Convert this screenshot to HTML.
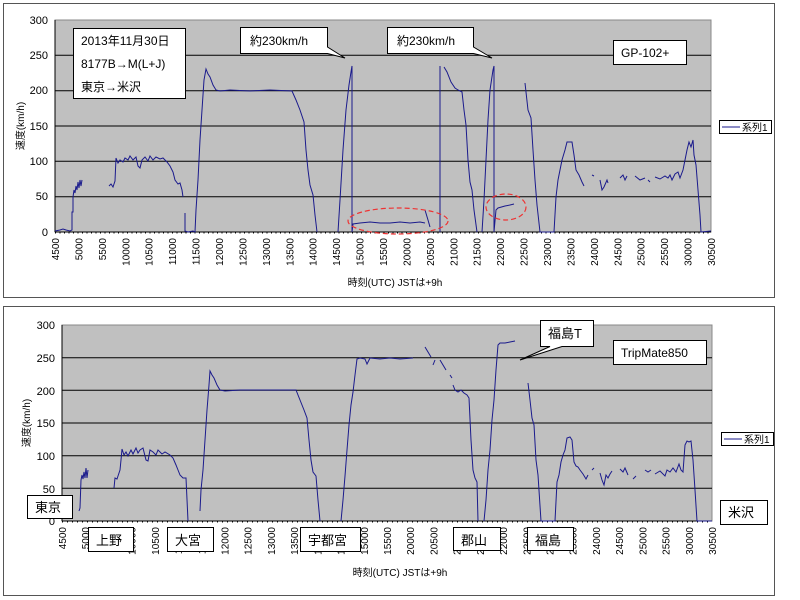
<!DOCTYPE html>
<html><head><meta charset="utf-8"><style>
html,body{margin:0;padding:0;background:#fff;}
svg{display:block;font-family:"Liberation Sans","Noto Sans CJK JP",sans-serif;}
</style></head><body>
<svg width="800" height="600" viewBox="0 0 800 600" xmlns="http://www.w3.org/2000/svg">
<rect x="0" y="0" width="800" height="600" fill="#fff"/>
<!-- TOP CHART -->
<rect x="3.5" y="3.5" width="771" height="294" fill="#fff" stroke="#555"/>
<rect x="55" y="20" width="656" height="212" fill="#c0c0c0" stroke="#888"/>
<g stroke="#000" stroke-width="1">
<line x1="55" y1="55.3" x2="711" y2="55.3"/><line x1="55" y1="90.7" x2="711" y2="90.7"/>
<line x1="55" y1="126" x2="711" y2="126"/><line x1="55" y1="161.3" x2="711" y2="161.3"/>
<line x1="55" y1="196.7" x2="711" y2="196.7"/>
<line x1="55" y1="20" x2="55" y2="232"/><line x1="55" y1="232" x2="711" y2="232"/>
<line x1="55" y1="233" x2="711" y2="233" stroke-dasharray="1,3.5"/>
</g>
<g font-size="11" fill="#000" text-anchor="end">
<text x="48" y="24">300</text><text x="48" y="59">250</text><text x="48" y="94">200</text>
<text x="48" y="130">150</text><text x="48" y="165">100</text><text x="48" y="200">50</text><text x="48" y="236">0</text>
</g>
<text transform="translate(24,126) rotate(-90)" font-size="10" text-anchor="middle">速度(km/h)</text>
<g font-size="10" text-anchor="end" id="xl1">
<text transform="translate(59,238) rotate(-90)">4500</text>
<text transform="translate(82.4,238) rotate(-90)">5000</text>
<text transform="translate(105.9,238) rotate(-90)">5500</text>
<text transform="translate(129.3,238) rotate(-90)">10000</text>
<text transform="translate(152.7,238) rotate(-90)">10500</text>
<text transform="translate(176.1,238) rotate(-90)">11000</text>
<text transform="translate(199.6,238) rotate(-90)">11500</text>
<text transform="translate(223,238) rotate(-90)">12000</text>
<text transform="translate(246.4,238) rotate(-90)">12500</text>
<text transform="translate(269.9,238) rotate(-90)">13000</text>
<text transform="translate(293.3,238) rotate(-90)">13500</text>
<text transform="translate(316.7,238) rotate(-90)">14000</text>
<text transform="translate(340.1,238) rotate(-90)">14500</text>
<text transform="translate(363.6,238) rotate(-90)">15000</text>
<text transform="translate(387,238) rotate(-90)">15500</text>
<text transform="translate(410.4,238) rotate(-90)">20000</text>
<text transform="translate(433.9,238) rotate(-90)">20500</text>
<text transform="translate(457.3,238) rotate(-90)">21000</text>
<text transform="translate(480.7,238) rotate(-90)">21500</text>
<text transform="translate(504.1,238) rotate(-90)">22000</text>
<text transform="translate(527.6,238) rotate(-90)">22500</text>
<text transform="translate(551,238) rotate(-90)">23000</text>
<text transform="translate(574.4,238) rotate(-90)">23500</text>
<text transform="translate(597.9,238) rotate(-90)">24000</text>
<text transform="translate(621.3,238) rotate(-90)">24500</text>
<text transform="translate(644.7,238) rotate(-90)">25000</text>
<text transform="translate(668.1,238) rotate(-90)">25500</text>
<text transform="translate(691.6,238) rotate(-90)">30000</text>
<text transform="translate(715,238) rotate(-90)">30500</text>
</g>
<text x="395" y="286" font-size="10" text-anchor="middle">時刻(UTC) JSTは+9h</text>
<g fill="none" stroke="#1a1a8c" stroke-width="1">
<polyline points="55,231 60,230 63,229 66,230 70,231 72,230 72,212 73,212 73,197 74,190 75,193 76,186 77,190 78,182 79,188 80,180 81,186 82,180"/>
<polyline points="109,186 111,184 113,187 115,181 116,158 118,163 120,160 123,162 125,158 128,160 130,156 133,160 136,157 138,166 140,168 142,160 145,157 148,161 150,156 153,160 156,157 160,159 163,158 167,162 170,166 173,172 175,180 178,184 180,183 182,190 183,197"/>
<polyline points="185,213 185,231 188,232 193,231 195,232 196,210 198,180 200,140 202,110 204,80 206,69 208,74 210,77 213,85 216,90 220,91 230,90 250,91 270,90 292,91 296,100 300,110 304,122 306,150 308,170 310,185 313,195 315,215 317,232"/>
<polyline points="338,232 340,200 343,150 346,110 349,85 351,72 352,66 352,232 353,224 360,223 370,222 380,223 390,223 400,222 410,223 420,222 425,223"/>
<polyline points="425,210 428,220 430,227"/>
<polyline points="440,232 440,66"/>
<polyline points="444,67 447,72 451,82 455,88 458,90 462,92 464,110 466,125 468,160 470,182 472,190 474,210 477,232"/>
<polyline points="482,232 484,200 486,160 488,120 490,90 493,70 494,66 494,232 496,210 498,208 505,206 510,205 514,204"/>
<polyline points="525,83 528,110 531,118 533,150 535,180 537,205 540,232 554,232 556,197 558,180 560,170 562,160 565,150 567,142 572,142 574,155 576,170 579,175 582,182 584,186"/>
<polyline points="592,175 594,176"/><polyline points="600,180 602,190 604,187 607,180 608,183"/>
<polyline points="620,178 623,175 625,180 627,176"/><polyline points="635,176 640,180 645,178"/>
<polyline points="648,180 650,182"/>
<polyline points="655,177 660,179 665,176 668,178 670,175 672,180 675,174 678,172 680,178 683,170 685,160 687,150 689,142 691,147 693,140 694,155 696,165 698,190 700,215 701,232 711,231"/>
</g>
<g fill="none" stroke="#e33" stroke-width="1.2" stroke-dasharray="5,3">
<ellipse cx="398" cy="221" rx="50" ry="13"/><ellipse cx="506" cy="207" rx="20" ry="13"/>
</g>
<g font-size="12">
<rect x="73.5" y="28.5" width="112" height="70" fill="#fff" stroke="#000"/>
<text x="81" y="45">2013年11月30日</text><text x="81" y="68">8177B→M(L+J)</text><text x="81" y="91">東京→米沢</text>
<path d="M240.5,27.5 H327.5 V47 L345,58 L327.5,53.5 H240.5 Z" fill="#fff" stroke="#000"/>
<text x="250" y="45">約230km/h</text>
<path d="M387.5,27.5 H473.5 V47 L492,58 L473.5,53.5 H387.5 Z" fill="#fff" stroke="#000"/>
<text x="397" y="45">約230km/h</text>
<rect x="613.5" y="40.5" width="73" height="24" fill="#fff" stroke="#000"/>
<text x="621" y="57">GP-102+</text>
</g>
<rect x="719.5" y="120.5" width="52" height="13" fill="#fff" stroke="#000"/>
<line x1="722" y1="127" x2="740" y2="127" stroke="#1a1a8c"/>
<text x="742" y="131" font-size="10">系列1</text>

<!-- BOTTOM CHART -->
<rect x="3.5" y="306.5" width="771" height="289" fill="#fff" stroke="#555"/>
<rect x="62" y="325" width="650" height="196" fill="#c0c0c0" stroke="#888"/>
<g stroke="#000" stroke-width="1">
<line x1="62" y1="357.7" x2="712" y2="357.7"/><line x1="62" y1="390.3" x2="712" y2="390.3"/>
<line x1="62" y1="423" x2="712" y2="423"/><line x1="62" y1="455.7" x2="712" y2="455.7"/>
<line x1="62" y1="488.3" x2="712" y2="488.3"/>
<line x1="62" y1="325" x2="62" y2="521"/><line x1="62" y1="521" x2="712" y2="521"/>
<line x1="62" y1="522" x2="712" y2="522" stroke-dasharray="1,4"/>
</g>
<g font-size="11" text-anchor="end">
<text x="55" y="329">300</text><text x="55" y="362">250</text><text x="55" y="395">200</text>
<text x="55" y="427">150</text><text x="55" y="460">100</text><text x="55" y="493">50</text><text x="55" y="525">0</text>
</g>
<text transform="translate(30,423) rotate(-90)" font-size="10" text-anchor="middle">速度(km/h)</text>
<g font-size="10" text-anchor="end">
<text transform="translate(66,527) rotate(-90)">4500</text>
<text transform="translate(89.2,527) rotate(-90)">5000</text>
<text transform="translate(112.4,527) rotate(-90)">5500</text>
<text transform="translate(135.6,527) rotate(-90)">10000</text>
<text transform="translate(158.9,527) rotate(-90)">10500</text>
<text transform="translate(182.1,527) rotate(-90)">11000</text>
<text transform="translate(205.3,527) rotate(-90)">11500</text>
<text transform="translate(228.5,527) rotate(-90)">12000</text>
<text transform="translate(251.7,527) rotate(-90)">12500</text>
<text transform="translate(274.9,527) rotate(-90)">13000</text>
<text transform="translate(298.1,527) rotate(-90)">13500</text>
<text transform="translate(321.4,527) rotate(-90)">14000</text>
<text transform="translate(344.6,527) rotate(-90)">14500</text>
<text transform="translate(367.8,527) rotate(-90)">15000</text>
<text transform="translate(391,527) rotate(-90)">15500</text>
<text transform="translate(414.2,527) rotate(-90)">20000</text>
<text transform="translate(437.4,527) rotate(-90)">20500</text>
<text transform="translate(460.6,527) rotate(-90)">21000</text>
<text transform="translate(483.9,527) rotate(-90)">21500</text>
<text transform="translate(507.1,527) rotate(-90)">22000</text>
<text transform="translate(530.3,527) rotate(-90)">22500</text>
<text transform="translate(553.5,527) rotate(-90)">23000</text>
<text transform="translate(576.7,527) rotate(-90)">23500</text>
<text transform="translate(599.9,527) rotate(-90)">24000</text>
<text transform="translate(623.1,527) rotate(-90)">24500</text>
<text transform="translate(646.4,527) rotate(-90)">25000</text>
<text transform="translate(669.6,527) rotate(-90)">25500</text>
<text transform="translate(692.8,527) rotate(-90)">30000</text>
<text transform="translate(716,527) rotate(-90)">30500</text>
</g>
<text x="400" y="576" font-size="10" text-anchor="middle">時刻(UTC) JSTは+9h</text>
<g fill="none" stroke="#1a1a8c" stroke-width="1">
<polyline points="79,511 80,508 81,480 82,475 83,479 84,472 85,478 86,468 87,478 88,470"/>
<polyline points="114,488 115,478 117,479 118,476 120,470 121,460 122,449 124,455 126,452 128,456 131,450 133,454 136,448 138,453 140,450 143,448 146,460 148,461 150,450 153,452 156,455 158,450 162,454 165,452 170,455 173,458 176,465 178,470 180,475 183,478 186,478 188,521"/>
<polyline points="200,511 201,490 203,470 205,440 207,410 209,385 210,371 212,375 214,378 217,385 220,390 225,391 240,390 260,390 280,390 296,390 300,400 304,410 307,418 309,440 311,460 313,472 316,476 318,500 320,521"/>
<polyline points="341,521 343,500 345,476 347,450 349,425 351,405 353,392 355,375 357,359 360,358 365,359 367,364 370,358 380,359 390,358 400,359 413,358"/>
<polyline points="425,347 428,352 431,357"/><polyline points="433,365 435,360"/>
<polyline points="440,360 443,365 446,370"/><polyline points="450,375 452,378"/>
<polyline points="453,385 455,390 458,392 461,390 464,393 467,395 469,398 471,440 473,470 475,478 477,482 478,521"/>
<polyline points="484,521 486,500 488,470 490,450 492,420 494,400 496,370 498,345 500,343 505,343 510,342 515,341"/>
<polyline points="528,383 530,400 532,418 534,425 536,460 538,475 541,521 555,521 557,482 559,475 561,462 563,455 565,450 567,438 570,437 572,440 574,462 576,466 578,467 580,470 583,474 586,479 588,475"/>
<polyline points="592,470 594,468"/><polyline points="600,473 602,480 604,485 606,475 608,478 610,474 612,471"/>
<polyline points="620,469 623,472 625,468 628,475"/><polyline points="633,479 636,476"/>
<polyline points="645,470 648,472 651,470"/>
<polyline points="655,474 660,471 665,476 667,470 670,472 673,468 676,472 679,464 681,470 683,472 685,445 687,441 689,442 691,441 693,460 695,490 697,521 712,521"/>
</g>
<g font-size="13">
<path d="M540.5,320.5 H593.5 V346.5 H562 L520,360 L550,346.5 H540.5 Z" fill="#fff" stroke="#000"/>
<text x="548" y="338">福島T</text>
<rect x="613.5" y="340.5" width="93" height="24" fill="#fff" stroke="#000"/>
<text x="621" y="357" font-size="12">TripMate850</text>
<rect x="27.5" y="495.5" width="45" height="23" fill="#fff" stroke="#000"/><text x="35" y="512">東京</text>
<rect x="88.5" y="527.5" width="45" height="24" fill="#fff" stroke="#000"/><text x="96" y="545">上野</text>
<rect x="167.5" y="527.5" width="46" height="24" fill="#fff" stroke="#000"/><text x="175" y="545">大宮</text>
<rect x="300.5" y="527.5" width="60" height="24" fill="#fff" stroke="#000"/><text x="308" y="545">宇都宮</text>
<rect x="453.5" y="527.5" width="47" height="23" fill="#fff" stroke="#000"/><text x="461" y="545">郡山</text>
<rect x="527.5" y="527.5" width="46" height="23" fill="#fff" stroke="#000"/><text x="535" y="545">福島</text>
<rect x="720.5" y="500.5" width="47" height="24" fill="#fff" stroke="#000"/><text x="728" y="517">米沢</text>
</g>
<rect x="721.5" y="432.5" width="52" height="13" fill="#fff" stroke="#000"/>
<line x1="724" y1="439" x2="742" y2="439" stroke="#1a1a8c"/>
<text x="744" y="443" font-size="10">系列1</text>
</svg>
</body></html>
